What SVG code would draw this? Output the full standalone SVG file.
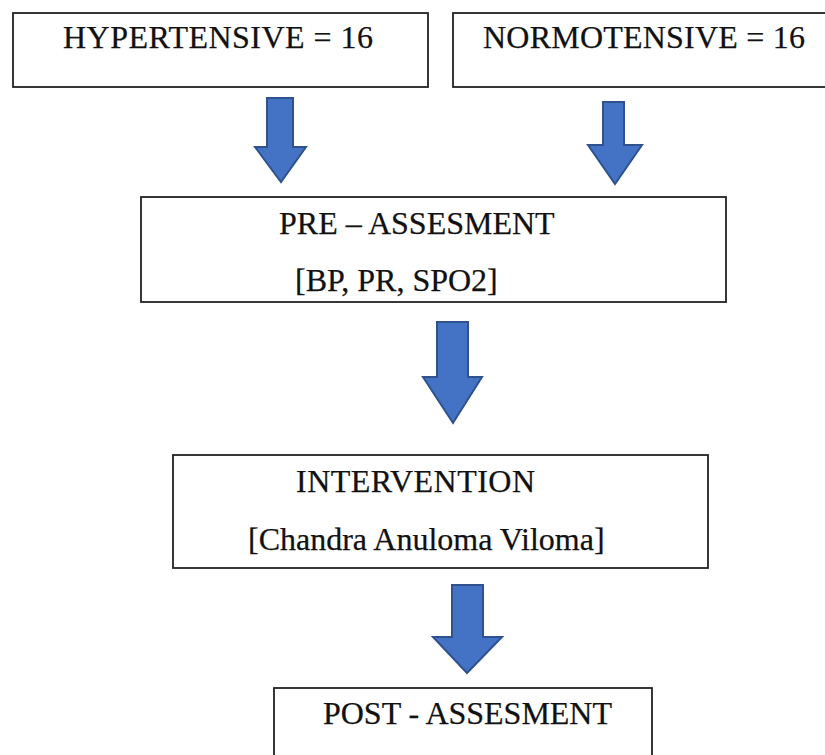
<svg xmlns="http://www.w3.org/2000/svg" width="825" height="755" viewBox="0 0 825 755">
<style>
.box{fill:#fff;stroke:#222;stroke-width:1.8}
.t{font-family:"Liberation Serif","Times New Roman",serif;font-size:32px;fill:#111;stroke:#111;stroke-width:0.25}
.arr{fill:#4472C4;stroke:#2F528F;stroke-width:2;stroke-linejoin:miter}
</style>
<rect width="825" height="755" fill="#fff"/>
<g id="connectors">
<polygon class="arr" points="267,98 293,98 293,147 306,147 281,182 255,147 267,147"/>
<polygon class="arr" points="603,102 624,102 624,145 642,145 615,184 588,145 603,145"/>
<polygon class="arr" points="437,322 468,322 468,377 482,377 453,423 423,377 437,377"/>
<polygon class="arr" points="452,585 483,585 483,637 502,637 467,673 433,637 452,637"/>
</g>
<g id="hypertensive">
<rect class="box" x="13" y="13" width="415" height="74"/>
<text class="t" x="63" y="48" textLength="310" lengthAdjust="spacing">HYPERTENSIVE = 16</text>
</g>
<g id="normotensive">
<rect class="box" x="453" y="13" width="380" height="74"/>
<text class="t" x="483" y="48" textLength="322" lengthAdjust="spacing">NORMOTENSIVE = 16</text>
</g>
<g id="pre-assessment">
<rect class="box" x="141" y="197" width="585" height="105"/>
<text class="t" x="279" y="234">PRE – ASSESMENT</text>
<text class="t" x="295" y="291">[BP, PR, SPO2]</text>
</g>
<g id="intervention">
<rect class="box" x="173" y="455" width="535" height="113"/>
<text class="t" x="296" y="492" textLength="239" lengthAdjust="spacing">INTERVENTION</text>
<text class="t" x="248" y="550">[Chandra Anuloma Viloma]</text>
</g>
<g id="post-assessment">
<rect class="box" x="274" y="688" width="378" height="80"/>
<text class="t" x="323" y="724" textLength="289" lengthAdjust="spacing">POST - ASSESMENT</text>
</g>
</svg>
